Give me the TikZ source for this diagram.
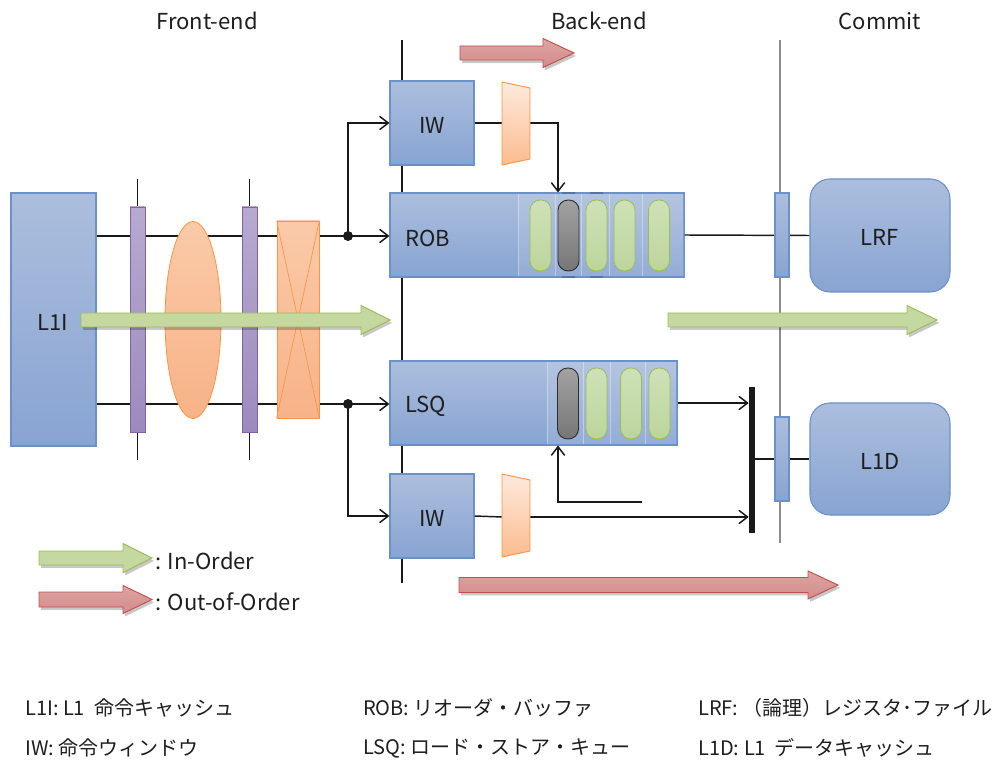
\documentclass[tikz,border=0pt]{standalone}
\usepackage{fontspec}
\setmainfont{Noto Sans CJK JP}
\usetikzlibrary{arrows.meta,shapes.geometric,shadows,calc}
\definecolor{blueT}{RGB}{172,190,221}
\definecolor{blueB}{RGB}{136,164,210}
\definecolor{blueD}{RGB}{108,145,199}
\definecolor{purT}{RGB}{183,170,208}
\definecolor{purB}{RGB}{156,138,189}
\definecolor{purD}{RGB}{128,100,162}
\definecolor{orT}{RGB}{250,202,168}
\definecolor{orB}{RGB}{248,178,135}
\definecolor{orD}{RGB}{247,150,70}
\definecolor{trT}{RGB}{253,234,220}
\definecolor{trB}{RGB}{251,188,142}
\definecolor{grT}{RGB}{207,225,183}
\definecolor{grB}{RGB}{188,213,155}
\definecolor{grD}{RGB}{155,187,89}
\definecolor{gyT}{RGB}{162,162,162}
\definecolor{gyB}{RGB}{118,118,118}
\definecolor{gyD}{RGB}{45,45,45}
\definecolor{garF}{RGB}{196,216,160}
\definecolor{redT}{RGB}{222,164,162}
\definecolor{redB}{RGB}{210,140,138}
\definecolor{redD}{RGB}{192,80,77}
\definecolor{sepG}{RGB}{140,140,140}
\definecolor{txt}{RGB}{30,30,30}
\newcommand\blockarrow[7]{%
  \path[#1] (#2,{#4-#6}) -- (#5,{#4-#6}) -- (#5,{#4-#7}) -- (#3,#4) -- (#5,{#4+#7}) -- (#5,{#4+#6}) -- (#2,{#4+#6}) -- cycle;}
\begin{document}
\begin{tikzpicture}[x=0.75pt,y=-0.75pt,
  font=\fontsize{16.5pt}{19pt}\selectfont, text=txt,
  bluebox/.style={draw=blueD, line width=0.8pt, top color=blueT, bottom color=blueB, inner sep=0pt},
  purbar/.style={draw=purD, line width=0.7pt, top color=purT, bottom color=purB, inner sep=0pt},
  orshape/.style={draw=orD, line width=0.6pt, top color=orT, bottom color=orB, inner sep=0pt},
  trapz/.style={draw=orD, line width=0.7pt, top color=trT, bottom color=trB},
  greenpill/.style={draw=grD, line width=0.6pt, top color=grT, bottom color=grB, rounded corners=7.6pt, minimum width=15.75pt, minimum height=53.25pt, inner sep=0pt},
  graypill/.style={draw=gyD, line width=0.7pt, top color=gyT, bottom color=gyB, rounded corners=7.6pt, minimum width=15.75pt, minimum height=53.25pt, inner sep=0pt},
  conn/.style={draw=black!90, line width=1.1pt},
  tip/.style={-{Straight Barb[length=6.5pt,width=10pt,line width=1.1pt]}},
  dot/.style={circle, fill=black!90, inner sep=0pt, minimum size=7.5pt},
  shd/.style={general shadow={shadow xshift=1.5pt, shadow yshift=-2.2pt, fill=black, opacity=0.22}},
  garrow/.style={draw=grD, line width=0.7pt, fill=garF, shd},
  rarrow/.style={draw=redD, line width=0.7pt, top color=redT, bottom color=redB, shd},
  lbl/.style={inner sep=0pt},
  gloss/.style={inner sep=0pt, anchor=west, font=\fontsize{15pt}{18pt}\selectfont}
]
\useasboundingbox (0,0) rectangle (999,762);

% headers
\node[lbl] (hfe) at (207,21) {Front-end};
\node[lbl] (hbe) at (599,21) {Back-end};
\node[lbl] (hcm) at (880,21) {Commit};

% separator lines
\draw[black!90, line width=0.9pt] (402,40) -- (402,583);
\draw[sepG, line width=1pt] (780,40) -- (780,543);
% tick lines of the pipeline registers
\draw[black!90, line width=0.9pt] (137.5,179) -- (137.5,460);
\draw[black!90, line width=0.9pt] (249.5,179) -- (249.5,460);

% main nodes
\node[bluebox, minimum width=63.75pt, minimum height=189.75pt] (l1i) at (53.5,319.5) {};
\node[bluebox, minimum width=63pt, minimum height=63pt] (iwt) at (432,123) {};
\node[bluebox, minimum width=220.5pt, minimum height=63pt] (rob) at (537,235) {};
\node[bluebox, minimum width=215.25pt, minimum height=63pt] (lsq) at (533.5,403) {};
\node[bluebox, minimum width=63pt, minimum height=63pt] (iwb) at (432,516) {};
\node[bluebox, rounded corners=15pt, minimum width=105pt, minimum height=84.75pt] (lrf) at (880,235.5) {};
\node[bluebox, rounded corners=15pt, minimum width=105pt, minimum height=84pt] (l1d) at (880,459) {};
\node[fill=black!90, inner sep=0pt, minimum width=4.5pt, minimum height=109.5pt] (bus) at (752,460) {};

\coordinate (jt) at (348,236);
\coordinate (jb) at (348,404);
\coordinate (fb) at (558,502);
\coordinate (fbstart) at (642,502);
\coordinate (trtin) at (502,123);
\coordinate (trtout) at (530,123);
\coordinate (trbin) at (502,517);
\coordinate (trbout) at (530,517);

% connectors (drawn below the pipeline shapes)
\draw[conn] (l1i.east |- jt) -- (jt);
\draw[conn,tip] (jt) -- (rob.west |- jt);
\draw[conn] (l1i.east |- jb) -- (jb);
\draw[conn,tip] (jb) -- (lsq.west |- jb);
\draw[conn,tip] (jt) |- (iwt.west);
\draw[conn,tip] (jb) |- (iwb.west);
\draw[conn] (iwt.east) -- (trtin);
\draw[conn,tip] (trtout) -| (rob.north -| fb);
\draw[conn] (iwb.east) -- (trbin);
\draw[conn,tip] (trbout) -- (bus.west |- trbout);
\draw[conn,tip] (lsq.east) -- (bus.west |- lsq.east);
\draw[conn,tip] (fbstart) -| (lsq.south -| fb);
\draw[conn] (rob.east) -- (lrf.west);
\draw[conn] (bus.east |- l1d.west) -- (l1d.west);

\node[dot] at (jt) {};
\node[dot] at (jb) {};

% pipeline elements over the lines
\node[purbar, minimum width=11.25pt, minimum height=168.75pt] (p1) at (137.5,319.5) {};
\node[purbar, minimum width=11.25pt, minimum height=168.75pt] (p2) at (249.5,319.5) {};
\node[orshape, ellipse, minimum width=42pt, minimum height=147.75pt] (ell) at (193,320) {};
\node[orshape, minimum width=31.5pt, minimum height=147.75pt] (xr) at (298,319.5) {};
\draw[orD, line width=0.5pt] (xr.north west) -- (xr.south east) (xr.north east) -- (xr.south west);
\node[bluebox, minimum width=10.5pt, minimum height=63pt] (barT) at (782,235) {};
\node[bluebox, minimum width=10.5pt, minimum height=63pt] (barB) at (782,459) {};

% trapezoids (ALU)
\path[trapz] (502,82) -- (530,88) -- (530,159) -- (502,165) -- cycle;
\path[trapz] (502,474) -- (530,480) -- (530,551) -- (502,557) -- cycle;

% lighter entry areas
\fill[white, opacity=0.10] (518,194) rectangle (683.5,276.5);
\draw[white, opacity=0.35, line width=0.4pt] (518,194) -- (518,276.5) (555,194) -- (555,276.5) (581,194) -- (581,276.5) (609,194) -- (609,276.5) (642,194) -- (642,276.5);
\fill[white, opacity=0.10] (547,362) rectangle (676.5,444.5);
\draw[white, opacity=0.35, line width=0.4pt] (547,362) -- (547,444.5) (583,362) -- (583,444.5) (610,362) -- (610,444.5) (645,362) -- (645,444.5);
\draw[blueD!80!black, line width=1.5pt] (562,193) -- (575,193) (590,193) -- (603,193) (562,277) -- (575,277) (590,277) -- (603,277);

% entries
\node[greenpill] (r1) at (540.5,235.5) {};
\node[graypill]  (r2) at (568.5,235.5) {};
\node[greenpill] (r3) at (596.5,235.5) {};
\node[greenpill] (r4) at (624.5,235.5) {};
\node[greenpill] (r5) at (659,235.5) {};
\node[graypill]  (s1) at (568,403.5) {};
\node[greenpill] (s2) at (596.5,403.5) {};
\node[greenpill] (s3) at (631,403.5) {};
\node[greenpill] (s4) at (659.5,403.5) {};

% labels
\node[lbl] (tl1i) at (53,322) {L1I};
\node[lbl] (tiwt) at (432,125) {IW};
\node[lbl, anchor=west] (trob) at (405,238) {ROB};
\node[lbl, anchor=west] (tlsq) at (405,406) {LSQ};
\node[lbl] (tiwb) at (432,518) {IW};
\node[lbl] (tlrf) at (880,237) {LRF};
\node[lbl] (tl1d) at (880,461) {L1D};

% flow arrows
\blockarrow{garrow}{81}{390}{320}{361}{7}{14.5}
\blockarrow{garrow}{668}{937}{320}{907}{7}{14.5}
\blockarrow{rarrow}{460}{574}{53}{543}{7}{14.5}
\blockarrow{rarrow}{459}{838}{585}{808}{7.5}{14}

% legend
\blockarrow{garrow}{39}{152}{558}{123}{7}{14.5}
\blockarrow{rarrow}{39}{152}{599.5}{123}{7.5}{14}
\node[lbl, anchor=west] (lin) at (155,561) {: In-Order};
\node[lbl, anchor=west] (lout) at (155,602) {: Out-of-Order};

% glossary
\node[gloss] (g1) at (25,708) {L1I: L1\hspace{0.45em}命令キャッシュ};
\node[gloss] (g2) at (25,748) {IW: 命令ウィンドウ};
\node[gloss] (g3) at (363,708) {ROB: リオーダ・バッファ};
\node[gloss] (g4) at (363,748) {LSQ: ロード・ストア・キュー};
\node[gloss] (g5) at (698,708) {LRF: （論理）レジスタ･ファイル};
\node[gloss] (g6) at (698,748) {L1D: L1\hspace{0.45em}データキャッシュ};
\end{tikzpicture}
\end{document}
